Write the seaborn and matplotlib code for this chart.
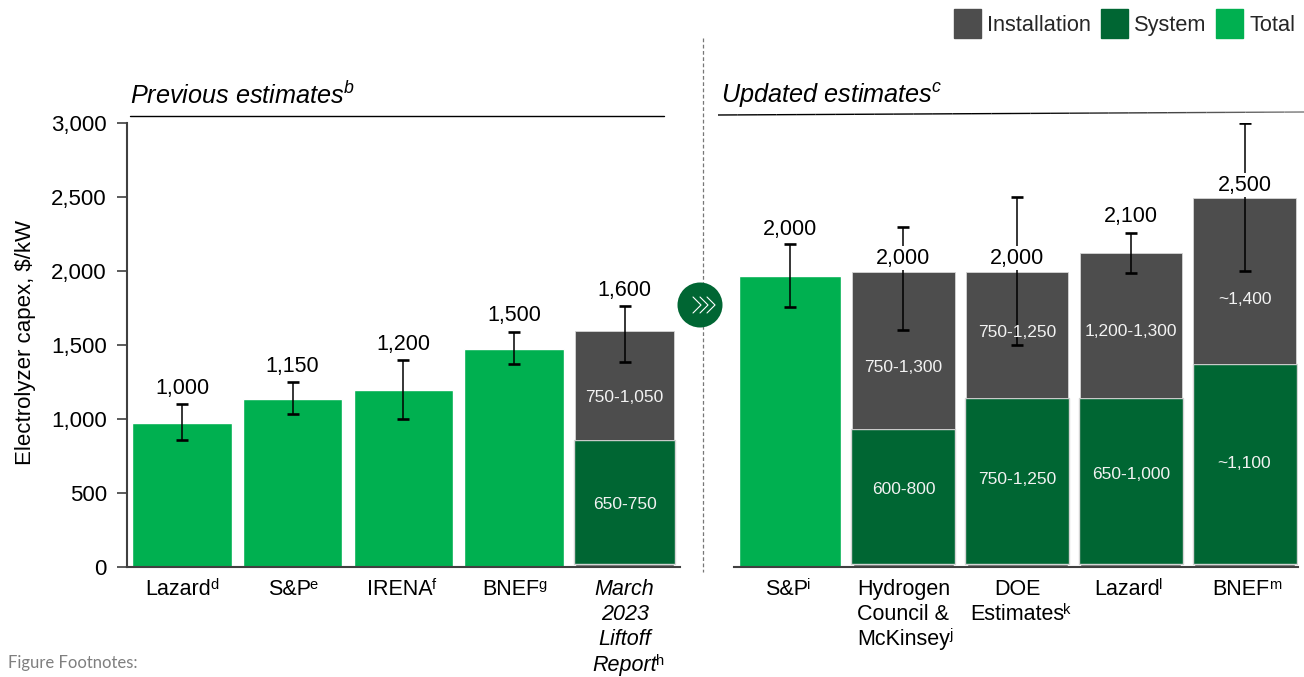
import matplotlib
matplotlib.use("Agg")
import numpy as np
import matplotlib.pyplot as plt
import seaborn as sns
from matplotlib.patches import Circle, Patch
from matplotlib.transforms import ScaledTranslation

# ---- data -------------------------------------------------------------
left_labels = ["Lazard", "S&P", "IRENA", "BNEF", "March\n2023\nLiftoff\nReport"]
left_sups = ["d", "e", "f", "g", "h"]
right_labels = ["S&P", "Hydrogen\nCouncil &\nMcKinsey", "DOE\nEstimates", "Lazard", "BNEF"]
right_sups = ["i", "j", "k", "l", "m"]

left_total_cats = left_labels[:4]
left_total = [973, 1135, 1196, 1473]
left_stack_cats = left_labels[4:]
left_base = [22]
left_system_top = [858]
left_install_top = [1595]

right_total_cats = right_labels[:1]
right_total = [1966]
right_stack_cats = right_labels[1:]
right_base = [22, 22, 22, 22]
right_system_top = [932, 1142, 1142, 1372]
right_install_top = [1993, 1993, 2121, 2493]

left_err_low = [860, 1035, 1000, 1370, 1385]
left_err_high = [1100, 1250, 1400, 1590, 1765]
right_err_low = [1760, 1600, 1500, 1985, 2000]
right_err_high = [2180, 2300, 2500, 2260, 3000]

left_value_text = ["1,000", "1,150", "1,200", "1,500", "1,600"]
right_value_text = ["2,000", "2,000", "2,000", "2,100", "2,500"]
left_install_text = ["750-1,050"]
left_system_text = ["650-750"]
right_install_text = ["750-1,300", "750-1,250", "1,200-1,300", "~1,400"]
right_system_text = ["600-800", "750-1,250", "650-1,000", "~1,100"]

# ---- label placement (data units on the y axis) ------------------------
left_value_y = [1208, 1358, 1506, 1702, 1871]
right_value_y = [2283, 2087, 2087, 2371, 2581]
left_install_y = [1147]
left_system_y = [425]
right_install_y = [1348, 1587, 1592, 1810]
right_system_y = [522, 592, 627, 702]

# ---- style ------------------------------------------------------------
GREEN, DARK, GRAY = "#00B050", "#006633", "#4D4D4D"
EDGE = "#D5D5D5"
sns.set_theme(style="white")
plt.rcParams["font.family"] = ["Liberation Sans", "DejaVu Sans"]
plt.rcParams["mathtext.fontset"] = "custom"
plt.rcParams["mathtext.rm"] = "Liberation Sans"
plt.rcParams["mathtext.it"] = "Liberation Sans:italic"
plt.rcParams["mathtext.default"] = "regular"

W, H = 1304, 677
fig = plt.figure(figsize=(W / 100, H / 100), dpi=100, facecolor="white")


def px_axes(x0, x1, y_top=123, y_bot=567):
    return fig.add_axes([x0 / W, 1 - y_bot / H, (x1 - x0) / W, (y_bot - y_top) / H])


def panel(ax, labels, total_cats, total, stack_cats, base, sys_top, inst_top,
          lo, hi, val_text, val_y, inst_text, inst_y, sys_text, sys_y, xlim):
    sys_h = [t - b for t, b in zip(sys_top, base)]
    inst_h = [t - s for t, s in zip(inst_top, sys_top)]
    sns.barplot(x=total_cats, y=total, order=labels, color=GREEN, saturation=1,
                width=0.9, ax=ax)
    sns.barplot(x=stack_cats, y=base, order=labels, color=GRAY, saturation=1,
                width=0.89, ax=ax)
    sns.barplot(x=stack_cats, y=sys_h, bottom=base, order=labels, color=DARK, saturation=1,
                width=0.915, edgecolor=EDGE, linewidth=1, ax=ax)
    sns.barplot(x=stack_cats, y=inst_h, bottom=sys_top, order=labels, color=GRAY, saturation=1,
                width=0.9, edgecolor=EDGE, linewidth=0.6, ax=ax)
    xs = list(range(len(labels)))
    mid = [(a + b) / 2 for a, b in zip(lo, hi)]
    err = [[m - a for m, a in zip(mid, lo)], [b - m for m, b in zip(mid, hi)]]
    ax.errorbar(xs, mid, yerr=err, fmt="none", ecolor="black", elinewidth=1.1,
                capsize=4.4, capthick=1.9, zorder=5)
    for x, t, y in zip(xs, val_text, val_y):
        ax.text(x, y, t, ha="center", va="center", fontsize=15.5, color="black", zorder=6,
                bbox=dict(facecolor="white", edgecolor="none", pad=1.2))
    offset = len(labels) - len(stack_cats)
    for i, (t, y) in enumerate(zip(inst_text, inst_y)):
        ax.text(i + offset, y, t, ha="center", va="center", fontsize=12.5, color="#F2F2F2", zorder=7)
    for i, (t, y) in enumerate(zip(sys_text, sys_y)):
        ax.text(i + offset, y, t, ha="center", va="center", fontsize=12.5, color="#F2F2F2", zorder=7)
    ax.set_xlim(*xlim)
    ax.set_ylim(0, 3000)
    ax.set_xticks(xs)
    ax.set_xticklabels(labels, linespacing=1.27)
    ax.tick_params(axis="x", length=0, labelsize=15.5, pad=8.5, colors="black")
    # one-line labels make room for their superscript, as the two are centred together
    for lbl, t in zip(ax.get_xticklabels(), labels):
        shift_px = 0 if "\n" in t else -3.5
        lbl.set_transform(lbl.get_transform()
                          + ScaledTranslation(shift_px / 100, 0, fig.dpi_scale_trans))
    sns.despine(ax=ax, top=True, right=True)
    ax.spines["bottom"].set_color("#404040")
    ax.spines["bottom"].set_linewidth(1.5)
    ax.patch.set_alpha(0)


ax1 = px_axes(127, 680)
panel(ax1, left_labels, left_total_cats, left_total, left_stack_cats, left_base,
      left_system_top, left_install_top, left_err_low, left_err_high, left_value_text,
      left_value_y, left_install_text, left_install_y, left_system_text, left_system_y,
      (-0.497, 4.5))
ax1.set_yticks([0, 500, 1000, 1500, 2000, 2500, 3000])
ax1.set_yticklabels(["0", "500", "1,000", "1,500", "2,000", "2,500", "3,000"])
ax1.tick_params(axis="y", left=True, length=7, width=1.2, color="#404040",
                labelsize=16, pad=7.5, labelcolor="black")
ax1.spines["left"].set_color("#404040")
ax1.spines["left"].set_linewidth(1.5)
ax1.set_ylabel("Electrolyzer capex, \\$/kW", fontsize=16, color="black", labelpad=11, y=0.505)
ax1.get_xticklabels()[4].set_style("italic")

ax2 = px_axes(734, 1298)
panel(ax2, right_labels, right_total_cats, right_total, right_stack_cats, right_base,
      right_system_top, right_install_top, right_err_low, right_err_high, right_value_text,
      right_value_y, right_install_text, right_install_y, right_system_text, right_system_y,
      (-0.49, 4.47))
ax2.set_yticks([])
ax2.set_ylabel("")
ax2.spines["left"].set_visible(False)

# ---- annotations in figure pixel coordinates ---------------------------
ov = fig.add_axes([0, 0, 1, 1], zorder=10)
ov.set_xlim(0, W)
ov.set_ylim(H, 0)
ov.axis("off")
ov.patch.set_alpha(0)

# superscripts sit just after the last line of each tick label
fig.canvas.draw()
renderer = fig.canvas.get_renderer()
for ax, sups in ((ax1, left_sups), (ax2, right_sups)):
    for lbl, sup in zip(ax.get_xticklabels(), sups):
        box = lbl.get_window_extent(renderer)
        last = lbl.get_text().split("\n")[-1]
        tmp = ov.text(0, 0, last, fontsize=lbl.get_fontsize(), style=lbl.get_style())
        w = tmp.get_window_extent(renderer).width
        tmp.remove()
        cx = (box.x0 + box.x1) / 2
        ov.text(cx + w / 2 - 1, H - box.y0 - 8, sup, fontsize=10.5, style="normal",
                ha="left", va="bottom", color="black")

ov.plot([703, 703], [38, 572], color="#777777", lw=0.9, ls=(0, (3, 2)))
ov.plot([130, 664], [115.5, 115.5], color="black", lw=1)
xs_line = np.linspace(718, 1304, 31)
ys_line = np.linspace(115, 112, 31)
for i in range(30):
    g = max(0, (xs_line[i] - 1000) / 304) * 0.5
    ov.plot(xs_line[i:i + 2], ys_line[i:i + 2], color=(g, g, g), lw=1, solid_capstyle="butt")
ov.text(130, 95, "Previous estimates$^{\\mathit{b}}$", style="italic", fontsize=18.2,
        va="center", ha="left", color="black")
ov.text(721, 96, "Updated estimates$^{\\mathit{c}}$", style="italic", fontsize=18.2,
        va="center", ha="left", color="black")
ov.text(8, 663, "Figure Footnotes:", fontsize=12, color="#7F7F7F", family="Lato",
        va="center", ha="left")

ov.add_patch(Circle((700, 305), 22.5, facecolor=DARK, edgecolor="none", zorder=3))
for dx in (0, 7, 14):
    ov.plot([693 + dx, 701 + dx, 693 + dx], [297, 305, 313], color="white", lw=0.8, zorder=4)

fig.legend(handles=[Patch(color=GRAY, label="Installation"),
                    Patch(color=DARK, label="System"),
                    Patch(color=GREEN, label="Total")],
           loc="upper right", bbox_to_anchor=(1300 / W, 1 - 5 / H), ncol=3, frameon=False,
           fontsize=15.7, handlelength=1.24, handleheight=1.62, handletextpad=0.3,
           columnspacing=0.435, borderpad=0.2, borderaxespad=0)

fig.savefig("out.png", dpi=100, facecolor="white")
